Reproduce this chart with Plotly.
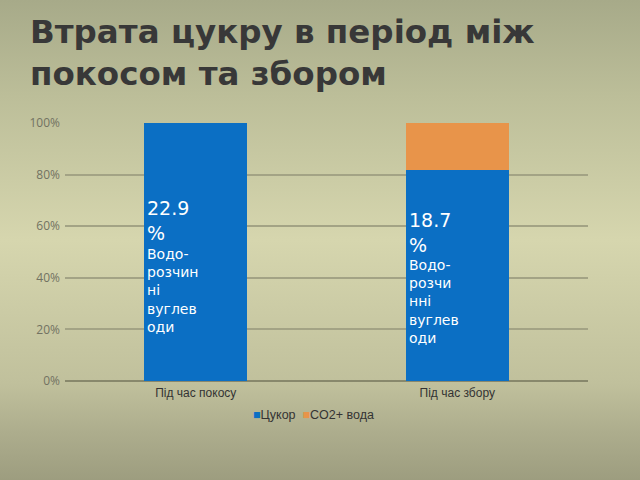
import base64
import plotly.graph_objects as go

categories = ["Під час покосу", "Під час збору"]
series_names = ["Цукор", "CO2+ вода"]
sugar = [1.0, 0.817]
loss = [0.0, 0.183]
big_labels = ["22.9<br>%", "18.7<br>%"]
small_labels = ["Водо-<br>розчин<br>ні<br>вуглев<br>оди", "Водо-<br>розчи<br>нні<br>вуглев<br>оди"]
tick_vals = [0, 0.2, 0.4, 0.6, 0.8, 1.0]
tick_text = ["0%", "20%", "40%", "60%", "80%", "100%"]
title_text = "<b>Втрата цукру в період між<br>покосом та збором</b>"
colors = ["#0b6fc4", "#e8944a"]

W, H = 640, 480
L, R, T, B = 65, 52, 123, 99
pw, ph = W - L - R, H - T - B

svg = f"""<svg xmlns='http://www.w3.org/2000/svg' width='{W}' height='{H}'>
<defs><linearGradient id='g' x1='0' y1='0' x2='0' y2='1'>
<stop offset='0' stop-color='#a7aa89'/>
<stop offset='0.2' stop-color='#bcbe99'/>
<stop offset='0.5' stop-color='#d6d6ae'/>
<stop offset='0.8' stop-color='#c0c09c'/>
<stop offset='0.9' stop-color='#adad8d'/>
<stop offset='1' stop-color='#9d9d7f'/>
</linearGradient></defs>
<rect width='{W}' height='{H}' fill='url(#g)'/></svg>"""
bg_uri = "data:image/svg+xml;base64," + base64.b64encode(svg.encode()).decode()

fig = go.Figure()
fig.add_trace(go.Bar(x=categories, y=sugar, name=series_names[0], marker_color=colors[0],
                     marker_line_width=0, width=0.394, showlegend=False))
fig.add_trace(go.Bar(x=categories, y=loss, name=series_names[1], marker_color=colors[1],
                     marker_line_width=0, width=0.394, showlegend=False))

big_tops = [0.72, 0.674]
small_tops = [0.53, 0.49]
for i in range(len(categories)):
    fig.add_annotation(x=i - 0.197, y=big_tops[i], xref="x", yref="y", text=big_labels[i],
                       showarrow=False, xanchor="left", yanchor="top", align="left", xshift=1,
                       font=dict(family="DejaVu Sans", size=19, color="white"))
    fig.add_annotation(x=i - 0.197, y=small_tops[i], xref="x", yref="y", text=small_labels[i],
                       showarrow=False, xanchor="left", yanchor="top", align="left", xshift=1,
                       font=dict(family="DejaVu Sans", size=14, color="white"))

legend_text = "  ".join(
    f"<span style='color:{c}'>■</span>{n}" for n, c in zip(series_names, colors))
fig.add_annotation(x=(313 - L) / pw, y=(H - B - 415) / ph, xref="paper", yref="paper",
                   text=legend_text, showarrow=False, xanchor="center", yanchor="middle",
                   font=dict(family="Liberation Sans, Arial", size=12.5, color="#333333"))

fig.add_annotation(x=(28 - L) / pw, y=1 + (T - 11) / ph, xref="paper", yref="paper",
                   text=title_text, showarrow=False, xanchor="left", yanchor="top", align="left",
                   font=dict(family="DejaVu Sans", size=32.5, color="#383838"))

fig.add_layout_image(source=bg_uri, xref="paper", yref="paper", x=-L / pw, y=1 + T / ph,
                     sizex=W / pw, sizey=H / ph, sizing="stretch", xanchor="left",
                     yanchor="top", layer="below")

fig.update_layout(
    width=W, height=H, margin=dict(l=L, r=R, t=T, b=B),
    barmode="stack",
    paper_bgcolor="#c8c8a2", plot_bgcolor="rgba(0,0,0,0)",
    xaxis=dict(showgrid=False, showline=False, ticks="", ticklabelstandoff=3,
               tickfont=dict(family="Liberation Sans, Arial", size=12, color="#333333")),
    yaxis=dict(range=[0, 1], tickvals=tick_vals, ticktext=tick_text, showgrid=True,
               gridcolor="#a3a385", gridwidth=1.5, zeroline=True, zerolinecolor="#88886c",
               zerolinewidth=2, showline=False, ticks="", ticklabelstandoff=4,
               tickfont=dict(family="Open Sans, Liberation Sans", size=12, color="#727262")),
)

fig.write_html("out.html")
